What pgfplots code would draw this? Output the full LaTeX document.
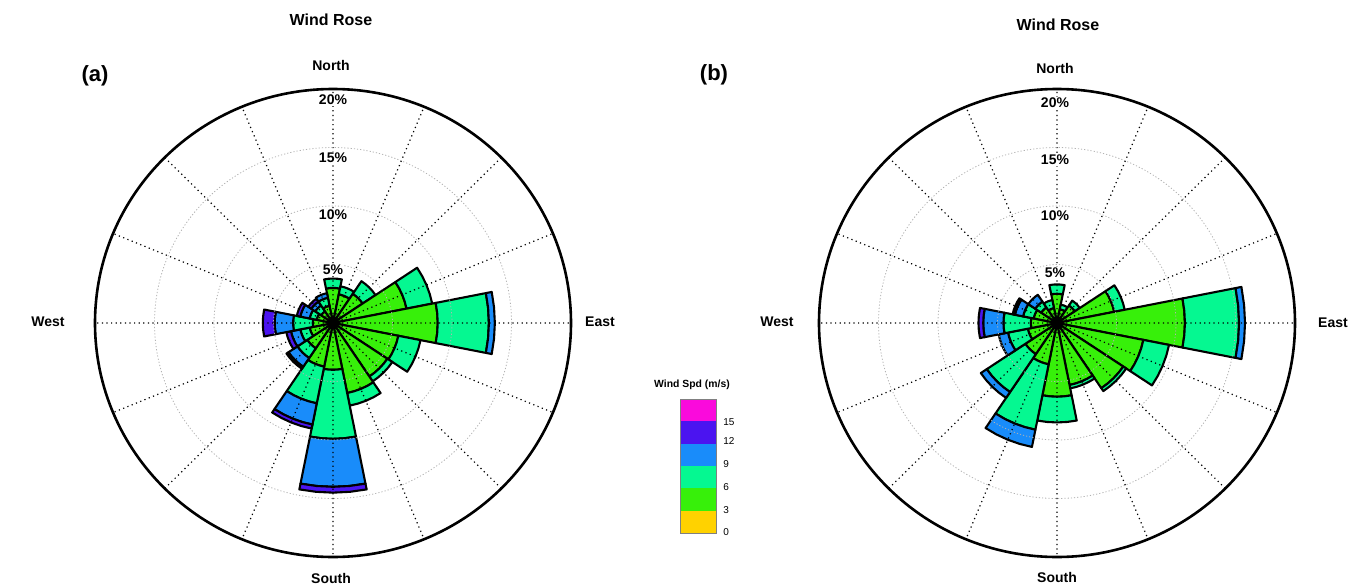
\documentclass[border=0pt]{standalone}
\usepackage{fontspec}
\setmainfont{Liberation Sans}
\usepackage{pgfplots}
\pgfplotsset{compat=1.18}
\usepgfplotslibrary{polar}

\definecolor{cY}{RGB}{255,210,0}
\definecolor{cG}{RGB}{55,240,10}
\definecolor{cC}{RGB}{5,248,145}
\definecolor{cB}{RGB}{25,140,250}
\definecolor{cP}{RGB}{75,20,240}
\definecolor{cM}{RGB}{250,10,220}

% one stacked wedge segment: bearing (deg from north, clockwise), inner %, outer %, colour
\newcommand\seg[4]{%
 \pgfmathsetmacro\tA{90-#1-11.25}%
 \pgfmathsetmacro\tB{90-#1-5.625}%
 \pgfmathsetmacro\tC{90-#1}%
 \pgfmathsetmacro\tD{90-#1+5.625}%
 \pgfmathsetmacro\tE{90-#1+11.25}%
 \edef\tmp{\noexpand\addplot[fill=#4,draw=black,line width=1.05pt,line join=round]
   coordinates {(\tA,#2) (\tA,#3) (\tB,#3) (\tC,#3) (\tD,#3) (\tE,#3) (\tE,#2) (\tD,#2) (\tC,#2) (\tB,#2)} -- cycle;}%
 \tmp}
\newcommand\two[3]{\seg{#1}{0}{0.3}{cY}\seg{#1}{0.3}{#2}{cG}\seg{#1}{#2}{#3}{cC}}
\newcommand\three[4]{\two{#1}{#2}{#3}\seg{#1}{#3}{#4}{cB}}
\newcommand\four[5]{\three{#1}{#2}{#3}{#4}\seg{#1}{#4}{#5}{cP}}

\pgfplotsset{rose/.style={
  scale only axis, width=238pt, height=234pt, anchor=origin,
  ymin=0, ymax=20, ytick={5,10,15},
  xtick={0,22.5,...,337.5},
  xticklabels={}, yticklabels={},
  major tick length=0pt,
  grid=major,
  major x grid style={black, line width=0.6pt, dash pattern=on 0.6pt off 1.7pt},
  major y grid style={black!30, line width=0.4pt, dash pattern=on 0.6pt off 1pt},
  axis line style={black, line width=1.3pt},
  y axis line style={draw=none},
  axis on top,
}}

\begin{document}
\begin{tikzpicture}
\useasboundingbox (0,0) rectangle (686pt,-294pt);
\tikzset{lab/.style={font=\bfseries\fontsize{7}{8}\selectfont, inner sep=1pt}}

% ---------------- panel (a)
\begin{polaraxis}[rose, at={(166.5pt,-161.5pt)}]
\two{0}{3.0}{3.8}
\two{22.5}{2.5}{3.2}
\two{45}{3.0}{4.3}
\two{67.5}{6.3}{8.5}
\three{90}{8.8}{13.1}{13.6}
\two{112.5}{5.6}{7.5}
\two{135}{5.5}{6.0}
\two{157.5}{6.1}{7.2}
\four{180}{4.0}{9.9}{14.0}{14.5}
\four{202.5}{3.8}{7.0}{8.85}{9.2}
\four{225}{2.6}{3.6}{4.5}{4.7}
\four{247.5}{2.0}{2.8}{3.6}{4.0}
\four{270}{1.7}{3.35}{4.9}{5.9}
\four{292.5}{1.4}{2.0}{2.8}{3.1}
\four{315}{1.2}{1.8}{2.2}{2.5}
\three{337.5}{1.5}{2.2}{2.6}
\end{polaraxis}

% ---------------- panel (b)
\begin{polaraxis}[rose, at={(528.5pt,-161.5pt)}]
\two{0}{2.5}{3.3}
\two{22.5}{1.2}{1.6}
\two{45}{1.8}{2.3}
\two{67.5}{4.9}{5.8}
\three{90}{10.75}{15.3}{15.8}
\two{112.5}{7.4}{9.6}
\two{135}{6.7}{7.0}
\two{157.5}{5.4}{5.7}
\two{180}{6.3}{8.5}
\three{202.5}{3.6}{9.3}{10.8}
\three{225}{3.2}{7.1}{7.7}
\three{247.5}{2.5}{4.2}{5.0}
\four{270}{2.2}{4.5}{6.2}{6.6}
\four{292.5}{2.0}{2.9}{3.6}{3.8}
\three{315}{1.6}{2.2}{2.9}
\two{337.5}{1.3}{2.0}
\end{polaraxis}

% ring labels
\foreach \yy/\tt in {-50/20, -79/15, -107.5/10, -135/5}
  \node[lab, fill=white, inner sep=0.5pt] at (166.5pt,\yy pt) {\tt\%};
\foreach \yy/\tt in {-51.5/20, -80/15, -108/10, -136.5/5}
  \node[lab, fill=white, inner sep=0.5pt] at (527.5pt,\yy pt) {\tt\%};

% titles and compass labels
\node[lab, font=\bfseries\fontsize{8}{9}\selectfont] at (165.5pt,-10pt) {Wind Rose};
\node[lab, font=\bfseries\fontsize{8}{9}\selectfont] at (529pt,-12.5pt) {Wind Rose};
\node[lab] at (165.5pt,-32.5pt) {North};
\node[lab] at (527.5pt,-34pt) {North};
\node[lab] at (165.5pt,-289pt) {South};
\node[lab] at (528.5pt,-288.5pt) {South};
\node[lab] at (24pt,-161pt) {West};
\node[lab] at (300pt,-161pt) {East};
\node[lab] at (388.5pt,-161pt) {West};
\node[lab] at (666.5pt,-161.5pt) {East};
\node[lab, font=\bfseries\fontsize{11}{12}\selectfont] at (47.5pt,-38pt) {(a)};
\node[lab, font=\bfseries\fontsize{11}{12}\selectfont] at (357pt,-37.5pt) {(b)};

% colour scale
\node[lab, font=\bfseries\fontsize{5.2}{6}\selectfont] at (346pt,-192.5pt) {Wind Spd (m/s)};
\fill[cM] (340pt,-199.5pt) rectangle (358pt,-210.67pt);
\fill[cP] (340pt,-210.67pt) rectangle (358pt,-221.83pt);
\fill[cB] (340pt,-221.83pt) rectangle (358pt,-233pt);
\fill[cC] (340pt,-233pt) rectangle (358pt,-244.17pt);
\fill[cG] (340pt,-244.17pt) rectangle (358pt,-255.33pt);
\fill[cY] (340pt,-255.33pt) rectangle (358pt,-266.5pt);
\draw[black!50, line width=0.3pt] (340pt,-199.5pt) rectangle (358pt,-266.5pt);
\foreach \yy/\tt in {-211/15, -220.5/12, -232/9, -243.5/6, -255/3, -266/0}
  \node[font=\fontsize{5}{6}\selectfont, anchor=west, inner sep=0pt] at (361.5pt,\yy pt) {\tt};
\end{tikzpicture}
\end{document}
